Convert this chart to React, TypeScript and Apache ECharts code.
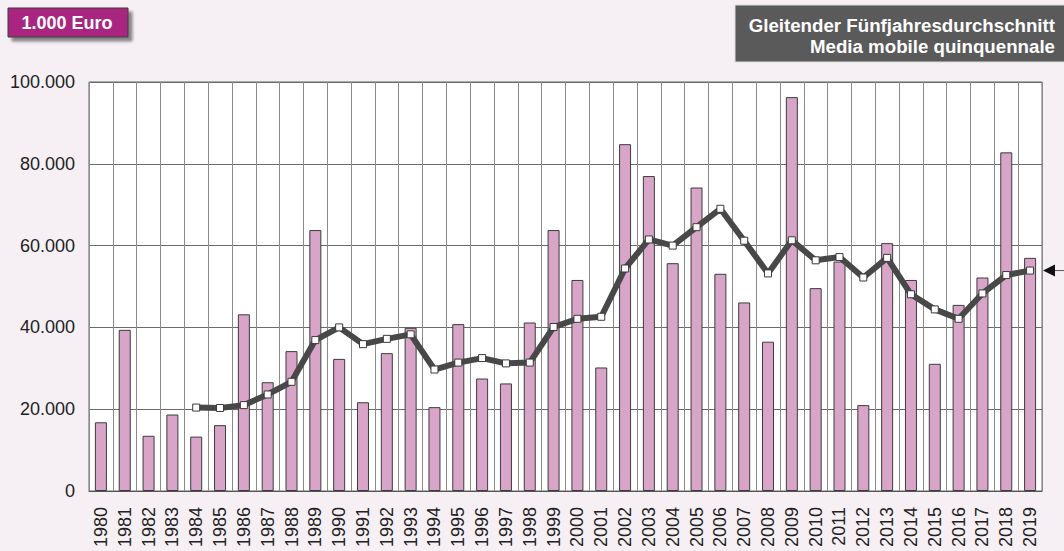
import React, { useEffect, useRef } from "react";
import * as echarts from "echarts";

const years: string[] = [
  "1980","1981","1982","1983","1984","1985","1986","1987","1988","1989",
  "1990","1991","1992","1993","1994","1995","1996","1997","1998","1999",
  "2000","2001","2002","2003","2004","2005","2006","2007","2008","2009",
  "2010","2011","2012","2013","2014","2015","2016","2017","2018","2019",
];

const annualValues: number[] = [
  16800, 39400, 13500, 18700, 13300, 16100, 43200, 26600, 34200, 63800,
  32300, 21700, 33700, 39900, 20500, 40800, 27500, 26300, 41200, 63800,
  51600, 30200, 84800, 77000, 55700, 74200, 53100, 46100, 36500, 96300,
  49600, 56100, 21000, 60600, 51600, 31100, 45500, 52200, 82800, 57000,
];

const movingAverage: (number | null)[] = [
  null, null, null, null, 20400, 20300, 21000, 23600, 26700, 36900,
  40000, 35900, 37200, 38300, 29700, 31400, 32500, 31200, 31400, 40100,
  42100, 42600, 54400, 61500, 60000, 64500, 69000, 61200, 53200, 61300,
  56400, 57200, 52200, 57000, 48100, 44400, 42100, 48300, 52800, 53900,
];

const unitLabel = "1.000 Euro";
const legendLines = ["Gleitender Fünfjahresdurchschnitt", "Media mobile quinquennale"];

const FONT = "'Liberation Sans', Arial, sans-serif";
const W = 1064;
const H = 551;
const GRID = { left: 89, right: 22, top: 82, bottom: 60 };

function fmt(v: number): string {
  return String(Math.round(v)).replace(/\B(?=(\d{3})+(?!\d))/g, ".");
}

export default function App() {
  const ref = useRef<HTMLDivElement>(null);
  useEffect(() => {
    if (!ref.current) return;
    const chart = echarts.init(ref.current, undefined, { renderer: "svg" });
    chart.setOption({
      animation: false,
      backgroundColor: "#f6f0f5",
      textStyle: { fontFamily: FONT },
      grid: {
        left: GRID.left,
        right: GRID.right,
        top: GRID.top,
        bottom: GRID.bottom,
        containLabel: false,
        outerBoundsMode: "none",
        show: true,
        backgroundColor: "#ffffff",
        borderColor: "#666666",
        borderWidth: 1,
      },
      xAxis: {
        type: "category",
        data: years,
        boundaryGap: true,
        axisLine: { show: true, lineStyle: { color: "#555555", width: 1 } },
        axisTick: { show: false },
        splitLine: { show: true, interval: 0, lineStyle: { color: "#8a8a8a", width: 1 } },
        axisLabel: {
          rotate: 90,
          interval: 0,
          margin: 16,
          fontSize: 18,
          color: "#222222",
          fontFamily: FONT,
        },
      },
      yAxis: {
        type: "value",
        min: 0,
        max: 100000,
        interval: 20000,
        axisLine: { show: false },
        axisTick: { show: false },
        splitLine: { show: true, lineStyle: { color: "#6a6a6a", width: 1 } },
        axisLabel: {
          margin: 14,
          fontSize: 18,
          color: "#222222",
          fontFamily: FONT,
          formatter: (v: number) => fmt(v),
        },
      },
      series: [
        {
          type: "bar",
          data: annualValues,
          barWidth: 12,
          itemStyle: { color: "#d8a4c8", borderColor: "#3c3c3c", borderWidth: 1 },
          z: 2,
        },
        {
          type: "line",
          data: movingAverage,
          connectNulls: false,
          lineStyle: { color: "#484848", width: 6 },
          symbol: "rect",
          symbolSize: 7,
          itemStyle: { color: "#ffffff", borderColor: "#3a3a3a", borderWidth: 1 },
          z: 3,
        },
      ],
      graphic: [
        {
          id: "unitBox",
          type: "rect",
          shape: { x: 8, y: 8, width: 120, height: 29 },
          style: {
            fill: "#a8287f",
            stroke: "#3a3a3a",
            lineWidth: 1,
            shadowBlur: 3,
            shadowOffsetX: 4,
            shadowOffsetY: 4,
            shadowColor: "rgba(0,0,0,0.45)",
          },
        },
        {
          id: "unitText",
          type: "text",
          x: 67,
          y: 23,
          style: {
            text: unitLabel,
            fill: "#ffffff",
            font: `bold 18px ${FONT}`,
            align: "center",
            verticalAlign: "middle",
          },
        },
        {
          id: "legendBox",
          type: "rect",
          shape: { x: 735, y: 5, width: 330, height: 57 },
          style: { fill: "#5a5a5a", stroke: "#dddddd", lineWidth: 1 },
        },
        {
          id: "legend1",
          type: "text",
          x: 1055,
          y: 25,
          style: {
            text: legendLines[0],
            fill: "#ffffff",
            font: `bold 18.7px ${FONT}`,
            align: "right",
            verticalAlign: "middle",
          },
        },
        {
          id: "legend2",
          type: "text",
          x: 1055,
          y: 46,
          style: {
            text: legendLines[1],
            fill: "#ffffff",
            font: `bold 18.7px ${FONT}`,
            align: "right",
            verticalAlign: "middle",
          },
        },
      ],
    });

    const lastIdx = movingAverage.length - 1;
    const lastVal = movingAverage[lastIdx] as number;
    const pt = chart.convertToPixel({ seriesIndex: 1 }, [lastIdx, lastVal]) as number[];
    if (pt && isFinite(pt[1])) {
      const tipX = W - GRID.right + 1;
      const py = pt[1];
      chart.setOption({
        graphic: [
          {
            id: "arrowLine",
            type: "line",
            shape: { x1: tipX + 10, y1: py, x2: W, y2: py },
            style: { stroke: "#555555", lineWidth: 1 },
          },
          {
            id: "arrowHead",
            type: "polygon",
            shape: { points: [[tipX, py], [tipX + 12, py - 6], [tipX + 12, py + 6]] },
            style: { fill: "#111111" },
          },
        ],
      });
    }

    return () => chart.dispose();
  }, []);

  return (
    <div
      ref={ref}
      style={{ position: "fixed", left: 0, top: 0, width: W, height: H }}
    />
  );
}
